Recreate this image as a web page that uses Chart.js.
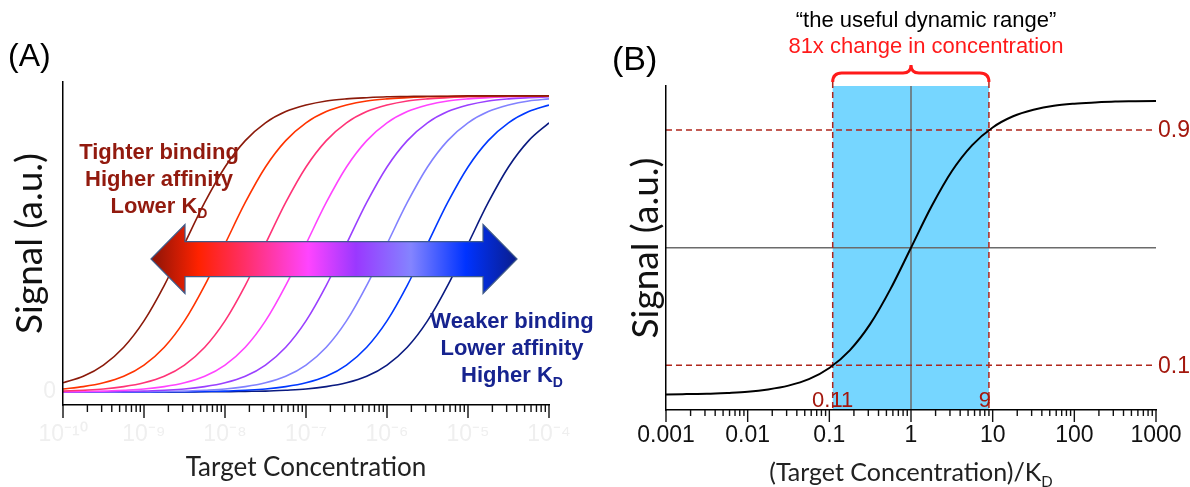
<!DOCTYPE html>
<html>
<head>
<meta charset="utf-8">
<script src="https://cdn.jsdelivr.net/npm/chart.js@4.4.1/dist/chart.umd.min.js"></script>
<style>
  html, body { margin: 0; padding: 0; background: #fff; }
  body { width: 1190px; height: 487px; position: relative; overflow: hidden;
         font-family: "Liberation Sans", Arial, sans-serif; }
  canvas { position: absolute; top: 0; }
  #chartA { left: 0; }
  #chartB { left: 600px; }
  .lbl { position: absolute; white-space: nowrap; }
  .panel { color: #000; }
  .note { font-weight: bold; font-size: 22px; line-height: 27px; text-align: center; width: 240px; }
  .note sub { font-size: 14px; vertical-align: -5px; line-height: 0; }
  .head { font-size: 22px; line-height: 22px; text-align: center; width: 600px; }
  .xtitle { font-family: Lato, sans-serif; font-size: 25px; line-height: 25px; color: #222;
            text-align: center; width: 500px; }
  .xtitle sub { font-size: 15px; vertical-align: -6px; line-height: 0; }
</style>
</head>
<body>
<canvas id="chartA" width="600" height="487"></canvas>
<canvas id="chartB" width="590" height="487"></canvas>

<div class="lbl panel" style="left:8px;top:39px;font-size:32px;line-height:32px;">(A)</div>
<div class="lbl panel" style="left:612px;top:41px;font-size:34px;line-height:34px;">(B)</div>

<div class="lbl note" style="left:39px;top:138px;color:#921a0e;">Tighter binding<br>Higher affinity<br>Lower K<sub>D</sub></div>
<div class="lbl note" style="left:392px;top:307px;color:#16238f;">Weaker binding<br>Lower affinity<br>Higher K<sub>D</sub></div>

<div class="lbl head" style="left:626px;top:9px;color:#000;">“the useful dynamic range”</div>
<div class="lbl head" style="left:626px;top:35px;color:#ff1a1a;">81x change in concentration</div>

<div class="lbl xtitle" style="left:661px;top:459px;">(Target Concentration)/K<sub>D</sub></div>

<script>
// ---------- panel A : binding curves for eight K_D values ----------
const targetConc = [1e-10, 1.78e-10, 3.16e-10, 5.62e-10, 1e-9, 1.78e-9, 3.16e-9, 5.62e-9,
  1e-8, 1.78e-8, 3.16e-8, 5.62e-8, 1e-7, 1.78e-7, 3.16e-7, 5.62e-7,
  1e-6, 1.78e-6, 3.16e-6, 5.62e-6, 1e-5, 1.78e-5, 3.16e-5, 5.62e-5, 1e-4];

const signalBrown = [.031, .053, .091, .151, .240, .360, .5, .640, .760, .849, .909, .947, .969,
  .983, .990, .994, .997, .998, .999, .999, 1, 1, 1, 1, 1];
const signalRed = [.010, .018, .031, .053, .091, .151, .240, .360, .5, .640, .760, .849, .909,
  .947, .969, .983, .990, .994, .997, .998, .999, .999, 1, 1, 1];
const signalRose = [.003, .006, .010, .018, .031, .053, .091, .151, .240, .360, .5, .640, .760,
  .849, .909, .947, .969, .983, .990, .994, .997, .998, .999, .999, 1];
const signalMagenta = [.001, .002, .003, .006, .010, .018, .031, .053, .091, .151, .240, .360, .5,
  .640, .760, .849, .909, .947, .969, .983, .990, .994, .997, .998, .999];
const signalPurple = [0, .001, .001, .002, .003, .006, .010, .018, .031, .053, .091, .151, .240,
  .360, .5, .640, .760, .849, .909, .947, .969, .983, .990, .994, .997];
const signalLavender = [0, 0, 0, .001, .001, .002, .003, .006, .010, .018, .031, .053, .091,
  .151, .240, .360, .5, .640, .760, .849, .909, .947, .969, .983, .990];
const signalBlue = [0, 0, 0, 0, 0, .001, .001, .002, .003, .006, .010, .018, .031,
  .053, .091, .151, .240, .360, .5, .640, .760, .849, .909, .947, .969];
const signalNavy = [0, 0, 0, 0, 0, 0, 0, .001, .001, .002, .003, .006, .010,
  .018, .031, .053, .091, .151, .240, .360, .5, .640, .760, .849, .909];

const curveColors = ['#8b1a0a', '#ff3300', '#ff3377', '#ff44ff', '#9a40ff', '#8282ff', '#0038ff', '#0a1a80'];

const concDecades = [1e-10, 1e-9, 1e-8, 1e-7, 1e-6, 1e-5, 1e-4];
const concTickLabels = ['10⁻¹⁰', '10⁻⁹', '10⁻⁸', '10⁻⁷', '10⁻⁶', '10⁻⁵', '10⁻⁴'];

const arrowSpan = [1.22e-9, 4.03e-5];
const arrowLevel = 0.449;

// ---------- panel B : normalised curve ----------
const ratioValues = [0.001, 0.00178, 0.00316, 0.00562, 0.01, 0.0178, 0.0316, 0.0562,
  0.1, 0.178, 0.316, 0.562, 1, 1.78, 3.16, 5.62, 10, 17.8, 31.6, 56.2, 100, 178, 316, 562, 1000];
const signalB = [.001, .002, .003, .006, .010, .018, .031, .053, .091, .151, .240, .360, .5,
  .640, .760, .849, .909, .947, .969, .983, .990, .994, .997, .998, .999];

const ratioDecades = [0.001, 0.01, 0.1, 1, 10, 100, 1000];
const ratioTickLabels = ['0.001', '0.01', '0.1', '1', '10', '100', '1000'];

const dynRange = [0.11, 9];
const rangeLabels = ['0.11', '9'];
const levelLines = [0.1, 0.9];
const levelLabels = ['0.1', '0.9'];
const midPoint = { x: 1, y: 0.5 };

Chart.defaults.font.family = '"Liberation Sans", Arial, sans-serif';

function logTicks(decades) {
  return (scale) => {
    const t = [];
    decades.forEach((d, i) => {
      if (i < decades.length - 1) {
        for (let m = 1; m < 10; m++) t.push({ value: m * d });
      } else {
        t.push({ value: d });
      }
    });
    scale.ticks = t;
  };
}

// major / minor tick marks under the x axis
const tickMarks = {
  id: 'tickMarks',
  afterDraw(chart, args, opts) {
    const s = chart.scales.x, ctx = chart.ctx, y0 = chart.chartArea.bottom;
    ctx.save();
    ctx.strokeStyle = '#111';
    ctx.lineWidth = 1.4;
    s.ticks.forEach(t => {
      const e = Math.log10(t.value);
      const major = Math.abs(e - Math.round(e)) < 1e-6;
      const px = s.getPixelForValue(t.value);
      ctx.beginPath();
      ctx.moveTo(px, y0);
      ctx.lineTo(px, y0 + (major ? opts.major : opts.minor));
      ctx.stroke();
    });
    ctx.restore();
  }
};

// gradient double arrow across panel A
const bigArrow = {
  id: 'bigArrow',
  afterDatasetsDraw(chart) {
    const xs = chart.scales.x, ys = chart.scales.y, ctx = chart.ctx;
    const x1 = xs.getPixelForValue(arrowSpan[0]);
    const x2 = xs.getPixelForValue(arrowSpan[1]);
    const yc = ys.getPixelForValue(arrowLevel);
    const hb = 17.5, hh = 34.5, hl = 34;
    const g = ctx.createLinearGradient(x1, 0, x2, 0);
    g.addColorStop(0, '#8a1408');
    g.addColorStop(0.13, '#ff2200');
    g.addColorStop(0.25, '#ff2e62');
    g.addColorStop(0.43, '#ff44ff');
    g.addColorStop(0.56, '#9a38ff');
    g.addColorStop(0.71, '#8484ff');
    g.addColorStop(0.86, '#0033ff');
    g.addColorStop(1, '#0a1d8c');
    ctx.save();
    ctx.beginPath();
    ctx.moveTo(x1, yc);
    ctx.lineTo(x1 + hl, yc - hh);
    ctx.lineTo(x1 + hl, yc - hb);
    ctx.lineTo(x2 - hl, yc - hb);
    ctx.lineTo(x2 - hl, yc - hh);
    ctx.lineTo(x2, yc);
    ctx.lineTo(x2 - hl, yc + hh);
    ctx.lineTo(x2 - hl, yc + hb);
    ctx.lineTo(x1 + hl, yc + hb);
    ctx.lineTo(x1 + hl, yc + hh);
    ctx.closePath();
    ctx.fillStyle = g;
    ctx.fill();
    ctx.strokeStyle = '#3f5a88';
    ctx.lineWidth = 1.2;
    ctx.stroke();
    ctx.restore();
  }
};

// shaded dynamic range, guide lines and their labels in panel B
const rangeGuides = {
  id: 'rangeGuides',
  beforeDatasetsDraw(chart) {
    const xs = chart.scales.x, ys = chart.scales.y, ctx = chart.ctx, a = chart.chartArea;
    const xa = xs.getPixelForValue(dynRange[0]), xb = xs.getPixelForValue(dynRange[1]);
    ctx.save();
    ctx.fillStyle = '#76d6ff';
    ctx.fillRect(xa, a.top, xb - xa, a.bottom - a.top);

    ctx.strokeStyle = '#6b6b6b';
    ctx.lineWidth = 1.5;
    const xm = xs.getPixelForValue(midPoint.x), ym = ys.getPixelForValue(midPoint.y);
    ctx.beginPath();
    ctx.moveTo(xm, a.top); ctx.lineTo(xm, a.bottom);
    ctx.moveTo(a.left, ym); ctx.lineTo(a.right, ym);
    ctx.stroke();

    ctx.strokeStyle = '#b0261c';
    ctx.lineWidth = 1.5;
    ctx.setLineDash([6, 4]);
    ctx.beginPath();
    levelLines.forEach(v => {
      const y = ys.getPixelForValue(v);
      ctx.moveTo(a.left, y); ctx.lineTo(a.right - 2, y);
    });
    dynRange.forEach(v => {
      const x = xs.getPixelForValue(v);
      ctx.moveTo(x, a.top - 4); ctx.lineTo(x, a.bottom);
    });
    ctx.stroke();
    ctx.restore();
  },
  afterDatasetsDraw(chart) {
    const xs = chart.scales.x, ys = chart.scales.y, ctx = chart.ctx, a = chart.chartArea;
    const xa = xs.getPixelForValue(dynRange[0]), xb = xs.getPixelForValue(dynRange[1]);
    const xm = xs.getPixelForValue(midPoint.x);
    ctx.save();
    ctx.fillStyle = '#a3170d';
    ctx.font = '23px "Liberation Sans", Arial, sans-serif';
    ctx.textBaseline = 'middle';
    ctx.textAlign = 'left';
    levelLines.forEach((v, i) => ctx.fillText(levelLabels[i], a.right + 2, ys.getPixelForValue(v) + 1));
    ctx.font = '22px "Liberation Sans", Arial, sans-serif';
    ctx.textBaseline = 'alphabetic';
    ctx.textAlign = 'center';
    ctx.fillText(rangeLabels[0], xa, a.bottom - 3);
    ctx.textAlign = 'right';
    ctx.fillText(rangeLabels[1], xb + 2, a.bottom - 3);

    // curly brace over the range
    const yb = a.top - 4, yl = a.top - 13, yt = a.top - 21;
    ctx.strokeStyle = '#ff1a1a';
    ctx.lineWidth = 3;
    ctx.beginPath();
    ctx.moveTo(xa, yb);
    ctx.quadraticCurveTo(xa, yl, xa + 9, yl);
    ctx.lineTo(xm - 8, yl);
    ctx.quadraticCurveTo(xm, yl, xm, yt);
    ctx.quadraticCurveTo(xm, yl, xm + 8, yl);
    ctx.lineTo(xb - 9, yl);
    ctx.quadraticCurveTo(xb, yl, xb, yb);
    ctx.stroke();
    ctx.restore();
  }
};

const pts = (xsArr, ysArr) => xsArr.map((x, i) => ({ x: x, y: ysArr[i] }));

const seriesA = [signalBrown, signalRed, signalRose, signalMagenta, signalPurple, signalLavender, signalBlue, signalNavy];

new Chart(document.getElementById('chartA'), {
  type: 'line',
  data: {
    datasets: seriesA.map((s, i) => ({
      data: pts(targetConc, s),
      borderColor: curveColors[i],
      borderWidth: 1.6,
      pointRadius: 0,
      cubicInterpolationMode: 'monotone'
    }))
  },
  options: {
    responsive: false,
    animation: false,
    layout: { padding: { left: 0, top: 82, right: 51, bottom: 0 } },
    plugins: { legend: { display: false }, tooltip: { enabled: false }, tickMarks: { major: 13, minor: 7 } },
    scales: {
      x: {
        type: 'logarithmic',
        min: concDecades[0],
        max: concDecades[concDecades.length - 1],
        afterBuildTicks: logTicks(concDecades),
        afterFit: (s) => { s.height = 82; },
        grid: { drawOnChartArea: false, drawTicks: true, tickLength: 13, tickColor: 'transparent' },
        border: { color: '#000', width: 1.5, z: 1 },
        ticks: {
          autoSkip: false, maxRotation: 0, minRotation: 0, padding: 3,
          color: '#efefef', font: { size: 23 },
          callback: (v) => { const i = concDecades.indexOf(v); return i >= 0 ? concTickLabels[i] : ''; }
        },
        title: {
          display: true, text: 'Target Concentration', color: '#222',
          font: { family: 'Lato', size: 26, lineHeight: 1 }, padding: { top: 0, bottom: 6 }
        }
      },
      y: {
        min: -0.044, max: 1.047,
        afterBuildTicks: (s) => { s.ticks = [{ value: 0 }]; },
        afterFit: (s) => { s.width = 63; },
        grid: { drawOnChartArea: false, drawTicks: false },
        border: { color: '#000', width: 1.5, z: 1 },
        ticks: { color: '#efefef', font: { size: 23 }, padding: 7 },
        title: {
          display: true, text: 'Signal (a.u.)', color: '#111',
          font: { family: 'Lato', size: 37, lineHeight: 1 }, padding: { top: 12, bottom: 0 }
        }
      }
    }
  },
  plugins: [tickMarks, bigArrow]
});

new Chart(document.getElementById('chartB'), {
  type: 'line',
  data: {
    datasets: [{
      data: pts(ratioValues, signalB),
      borderColor: '#000',
      borderWidth: 2,
      pointRadius: 0,
      cubicInterpolationMode: 'monotone'
    }]
  },
  options: {
    responsive: false,
    animation: false,
    layout: { padding: { left: 0, top: 86, right: 34, bottom: 0 } },
    plugins: { legend: { display: false }, tooltip: { enabled: false }, tickMarks: { major: 12, minor: 6 } },
    scales: {
      x: {
        type: 'logarithmic',
        min: ratioDecades[0],
        max: ratioDecades[ratioDecades.length - 1],
        afterBuildTicks: logTicks(ratioDecades),
        afterFit: (s) => { s.height = 77; },
        grid: { drawOnChartArea: false, drawTicks: true, tickLength: 12, tickColor: 'transparent' },
        border: { color: '#000', width: 1.5, z: 1 },
        ticks: {
          autoSkip: false, maxRotation: 0, minRotation: 0, padding: 0,
          color: '#111', font: { size: 23 },
          callback: (v) => { const i = ratioDecades.indexOf(v); return i >= 0 ? ratioTickLabels[i] : ''; }
        }
      },
      y: {
        min: -0.052, max: 1.05,
        afterFit: (s) => { s.width = 66; },
        grid: { drawOnChartArea: false, drawTicks: false },
        border: { color: '#000', width: 1.5, z: 1 },
        ticks: { display: false },
        title: {
          display: true, text: 'Signal (a.u.)', color: '#111',
          font: { family: 'Lato', size: 37, lineHeight: 1 }, padding: { top: 28, bottom: 0 }
        }
      }
    }
  },
  plugins: [rangeGuides, tickMarks]
});
</script>
</body>
</html>
